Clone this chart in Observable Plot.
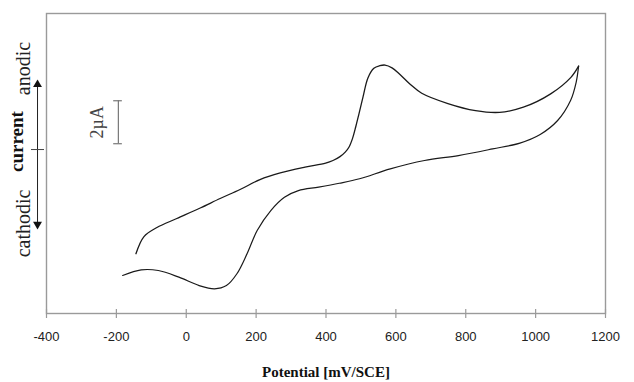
<!DOCTYPE html>
<html>
<head>
<meta charset="utf-8">
<script src="https://cdn.jsdelivr.net/npm/d3@7"></script>
<script src="https://cdn.jsdelivr.net/npm/@observablehq/plot@0.6"></script>
<style>
  html, body { margin: 0; padding: 0; background: #fff; }
  #chart svg { display: block; background: #fff; }
</style>
</head>
<body>
<div id="chart"></div>
<script>
// Forward (anodic) scan: potential in mV, current in µA
const potentialFwd = [-144, -121, -84, -27, 40, 97, 154, 211, 269, 340, 399, 420, 440, 455, 466, 476, 485, 494, 506, 520, 537, 554, 569, 589, 611, 640, 674, 749, 828, 897, 965, 1043, 1101, 1123];
const currentFwd   = [-4.85, -4.05, -3.63, -3.21, -2.72, -2.28, -1.86, -1.40, -1.09, -0.82, -0.63, -0.51, -0.33, -0.12, 0.12, 0.52, 1.05, 1.64, 2.45, 3.33, 3.78, 3.90, 3.93, 3.80, 3.50, 3.05, 2.62, 2.14, 1.81, 1.73, 1.97, 2.59, 3.36, 3.88];
// Reverse (cathodic) scan
const potentialRev = [1123, 1116, 1100, 1063, 1013, 955, 877, 779, 682, 584, 496, 438, 379, 321, 281, 242, 203, 174, 145, 115, 81, 37, -21, -80, -129, -182];
const currentRev   = [3.88, 3.13, 2.28, 1.35, 0.70, 0.30, 0.03, -0.28, -0.51, -0.90, -1.36, -1.57, -1.75, -1.91, -2.22, -2.84, -3.77, -4.85, -5.78, -6.33, -6.48, -6.33, -5.94, -5.63, -5.60, -5.86];

const xTicks = [-400, -200, 0, 200, 400, 600, 800, 1000, 1200];
const xDomain = [-400, 1200];
const yDomain = [-7.63, 6.33];
const xTitle = "Potential [mV/SCE]";

// Annotation (left side "current" direction indicator and 2 µA scale bar)
const sideLabels = ["anodic", "cathodic"];
const sideLabelX = [-446, -446];
const sideLabelY = [3.77, -3.44];
const midLabel = "current";
const midLabelPos = [-466, 0.37];
const arrowX = -425.7;
const arrowTop = 3.21, arrowBottom = -3.67;
const zeroTick = [-443, -405.7];
const scaleBarX = -194.3;
const scaleBarY = [0.27, 2.27];
const scaleCap = [-207.7, -182.9];
const scaleLabel = "2µA";
const scaleLabelPos = [-237, 1.27];

const fwd = potentialFwd.map((p, i) => ({potential: p, current: currentFwd[i]}));
const rev = potentialRev.map((p, i) => ({potential: p, current: currentRev[i]}));
const sides = sideLabels.map((t, i) => ({t, x: sideLabelX[i], y: sideLabelY[i]}));
const pxPerUnitY = 300 / (yDomain[1] - yDomain[0]);
const serif = "Liberation Serif, Times New Roman, serif";

const chart = Plot.plot({
  width: 634,
  height: 382,
  marginLeft: 46,
  marginRight: 29,
  marginTop: 13,
  marginBottom: 69,
  style: {background: "#fff", overflow: "visible"},
  x: {domain: xDomain},
  y: {domain: yDomain, axis: null},
  marks: [
    Plot.frame({stroke: "#9a9a9a", strokeWidth: 1.4}),
    Plot.ruleX(xTicks, {x: d => d, y1: yDomain[0] - 5 / pxPerUnitY, y2: yDomain[0] + 4 / pxPerUnitY, stroke: "#9a9a9a", strokeWidth: 1.2}),
    Plot.axisX({ticks: xTicks, tickFormat: d => String(d), tickSize: 0, tickPadding: 18, fontSize: 13, fontFamily: "Liberation Sans, Arial, sans-serif", fill: "#222", label: null}),
    Plot.text([xTitle], {frameAnchor: "bottom", lineAnchor: "middle", dy: 59, fontWeight: "bold", fontSize: 15, fontFamily: serif, fill: "#111"}),
    Plot.line(fwd, {x: "potential", y: "current", curve: "catmull-rom", stroke: "#1a1a1a", strokeWidth: 1.3}),
    Plot.line(rev, {x: "potential", y: "current", curve: "catmull-rom", stroke: "#1a1a1a", strokeWidth: 1.2}),
    // left indicator
    Plot.text(sides, {x: "x", y: "y", text: "t", rotate: -90, textAnchor: "middle", lineAnchor: "bottom", fontSize: 20, fontFamily: serif, fill: "#222"}),
    Plot.text([midLabel], {x: midLabelPos[0], y: midLabelPos[1], rotate: -90, textAnchor: "middle", lineAnchor: "bottom", fontSize: 19, fontWeight: "bold", fontFamily: serif, fill: "#111"}),
    Plot.ruleX([arrowX], {y1: arrowBottom + 0.2, y2: arrowTop - 0.2, stroke: "#222", strokeWidth: 1}),
    Plot.ruleY([0], {x1: zeroTick[0], x2: zeroTick[1], stroke: "#444", strokeWidth: 1}),
    Plot.dot([arrowTop - 4 / pxPerUnitY], {x: arrowX, y: d => d, symbol: "triangle", r: 3.3, fill: "#111", stroke: "none"}),
    Plot.dot([arrowBottom + 4 / pxPerUnitY], {x: arrowX, y: d => d, symbol: "triangle", rotate: 180, r: 3.3, fill: "#111", stroke: "none"}),
    // scale bar
    Plot.ruleX([scaleBarX], {y1: scaleBarY[0], y2: scaleBarY[1], stroke: "#777", strokeWidth: 1.2}),
    Plot.ruleY(scaleBarY, {x1: scaleCap[0], x2: scaleCap[1], y: d => d, stroke: "#777", strokeWidth: 1.2}),
    Plot.text([scaleLabel], {x: scaleLabelPos[0], y: scaleLabelPos[1], rotate: -90, textAnchor: "middle", lineAnchor: "bottom", fontSize: 18, fontFamily: serif, fill: "#444"})
  ]
});
document.getElementById("chart").appendChild(chart);
</script>
</body>
</html>
